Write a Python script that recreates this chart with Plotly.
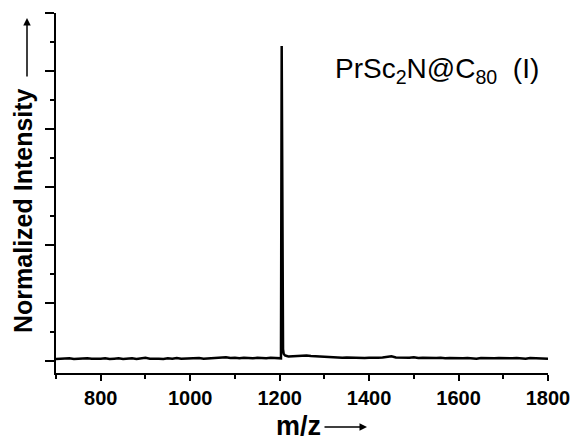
import plotly.graph_objects as go

mz = [700, 710, 720, 730, 740, 750, 760, 770, 780, 790,
      800, 810, 820, 830, 840, 850, 860, 870, 880, 890,
      900, 910, 920, 930, 940, 950, 960, 970, 980, 990,
      1000, 1010, 1020, 1030, 1040, 1050, 1060, 1070, 1080, 1090,
      1100, 1110, 1120, 1130, 1140, 1150, 1160, 1170, 1180, 1190,
      1200, 1203, 1204.6, 1205.6, 1206.6, 1207.6, 1209, 1212, 1216,
      1220, 1230, 1240, 1250, 1260, 1270, 1280, 1290,
      1300, 1310, 1320, 1330, 1340, 1350, 1360, 1370, 1380, 1390,
      1400, 1410, 1420, 1430, 1440, 1450, 1460, 1470, 1480, 1490,
      1500, 1510, 1520, 1530, 1540, 1550, 1560, 1570, 1580, 1590,
      1600, 1610, 1620, 1630, 1640, 1650, 1660, 1670, 1680, 1690,
      1700, 1710, 1720, 1730, 1740, 1750, 1760, 1770, 1780, 1790, 1800]

intensity = [0.03, 0.035, 0.03, 0.04, 0.03, 0.035, 0.03, 0.04, 0.035, 0.03,
             0.035, 0.04, 0.03, 0.035, 0.04, 0.03, 0.035, 0.04, 0.03, 0.035,
             0.05, 0.035, 0.04, 0.035, 0.03, 0.04, 0.035, 0.045, 0.035, 0.04,
             0.035, 0.04, 0.045, 0.035, 0.04, 0.05, 0.045, 0.055, 0.06, 0.045,
             0.05, 0.04, 0.05, 0.045, 0.04, 0.05, 0.045, 0.04, 0.05, 0.045,
             0.04, 0.04, 5.43, 2.09, 2.05, 0.2, 0.12, 0.09, 0.08,
             0.07, 0.075, 0.08, 0.085, 0.09, 0.08, 0.075, 0.07,
             0.065, 0.06, 0.055, 0.06, 0.05, 0.055, 0.05, 0.045, 0.05, 0.045,
             0.05, 0.045, 0.05, 0.055, 0.06, 0.075, 0.055, 0.05, 0.045, 0.05,
             0.06, 0.045, 0.05, 0.045, 0.04, 0.045, 0.05, 0.04, 0.045, 0.04,
             0.045, 0.04, 0.045, 0.04, 0.035, 0.045, 0.04, 0.035, 0.04, 0.045,
             0.04, 0.035, 0.04, 0.045, 0.04, 0.035, 0.045, 0.04, 0.035, 0.04, 0.035]

x_ticks = [800, 1000, 1200, 1400, 1600, 1800]
x_tick_labels = ["800", "1000", "1200", "1400", "1600", "1800"]
x_minor_ticks = [700, 900, 1100, 1300, 1500, 1700]

FONT = "Arial, Liberation Sans, sans-serif"

fig = go.Figure()
fig.add_trace(go.Scatter(x=mz, y=intensity, mode="lines",
                         line=dict(color="black", width=2.5),
                         hoverinfo="skip", showlegend=False))

L, R, T, B = 56, 28, 13, 68
W, H = 576, 441
pw, ph = W - L - R, H - T - B

def px(xp):
    return (xp - L) / pw

def py(yp):
    return (H - B - yp) / ph

fig.update_layout(
    width=W, height=H,
    margin=dict(l=L, r=R, t=T, b=B, pad=0),
    paper_bgcolor="white", plot_bgcolor="white",
    xaxis=dict(range=[700, 1800], showgrid=False, zeroline=False, automargin=False,
               showline=True, linecolor="black", linewidth=2,
               tickmode="array", tickvals=x_ticks, ticktext=x_tick_labels,
               ticks="outside", ticklen=6, tickwidth=2, tickcolor="black",
               tickfont=dict(family=FONT, size=20, color="black", weight="bold"),
               minor=dict(ticks="outside", ticklen=4, tickwidth=2, tickcolor="black",
                          tickvals=x_minor_ticks)),
    yaxis=dict(range=[-0.213, 6.0], showgrid=False, zeroline=False, automargin=False,
               showline=True, linecolor="black", linewidth=2,
               showticklabels=False, tick0=0, dtick=1,
               ticks="outside", ticklen=9, tickwidth=2, tickcolor="black",
               minor=dict(ticks="outside", ticklen=4, tickwidth=2, tickcolor="black",
                          dtick=0.5, tick0=0)),
)

# y-axis title with arrow
fig.add_annotation(xref="paper", yref="paper", x=px(23), y=py(211),
                   text="Normalized Intensity", textangle=-90, showarrow=False,
                   font=dict(family=FONT, size=25, color="black", weight="bold"),
                   xanchor="center", yanchor="middle")
fig.add_annotation(xref="paper", yref="paper", x=px(27), y=py(18),
                   ax=0, ay=60, axref="pixel", ayref="pixel", text="",
                   showarrow=True, arrowhead=2, arrowsize=1, arrowwidth=1.5,
                   arrowcolor="black")

# x-axis title with arrow
fig.add_annotation(xref="paper", yref="paper", x=px(298), y=py(426),
                   text="m/z", showarrow=False,
                   font=dict(family=FONT, size=27, color="black", weight="bold"),
                   xanchor="center", yanchor="middle")
fig.add_annotation(xref="paper", yref="paper", x=px(367), y=py(427),
                   ax=-44, ay=0, axref="pixel", ayref="pixel", text="",
                   showarrow=True, arrowhead=2, arrowsize=1, arrowwidth=1.5,
                   arrowcolor="black")

# compound label
fig.add_annotation(xref="paper", yref="paper", x=px(333), y=py(70),
                   text="PrSc<sub>2</sub>N@C<sub>80</sub>  (I)", showarrow=False,
                   font=dict(family=FONT, size=28, color="black"),
                   xanchor="left", yanchor="middle")

fig.write_html("out.html", config={"displayModeBar": False},
               post_script="document.body.style.margin='0';document.body.style.overflow='hidden';")
